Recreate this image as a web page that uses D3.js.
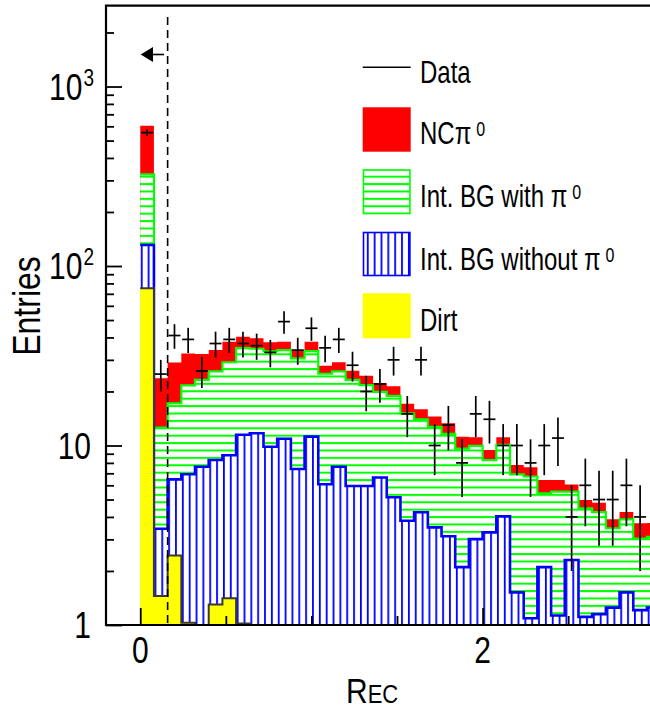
<!DOCTYPE html>
<html><head><meta charset="utf-8">
<script src="https://cdn.jsdelivr.net/npm/d3@7"></script>
<style>
body{margin:0;background:#fff}
svg{display:block}
text{font-family:"Liberation Sans",Arial,Helvetica,sans-serif;fill:#000}
</style>
</head><body>
<svg id="c" width="650" height="710"></svg>
<script>
// ---------------- data ----------------
const binLow = [0.00,0.08,0.16,0.24,0.32,0.40,0.48,0.56,0.64,0.72,0.80,0.88,0.96,1.04,1.12,1.20,1.28,1.36,1.44,
                1.52,1.60,1.68,1.76,1.84,1.92,2.00,2.08,2.16,2.24,2.32,2.40,2.48,2.56,2.64,2.72,2.80,2.88,2.96];
const binWidth = 0.08;
const dirt    = [75.1,1.45,2.44,1.03,0,1.30,1.41,1.02,0,0,0,0,0,0,0,0,0,0,0,0,0,0,0,0,0,0,0,0,0,0,0,0,0,0,0,0,0,0];
const bgNoPi0 = [55.9,1.99,4.04,5.89,7.62,7.00,7.42,10.45,11.7,9.85,10.9,7.40,11.2,6.08,7.62,5.95,5.95,6.63,5.15,
                 3.81,4.25,3.50,3.12,2.10,3.01,3.28,4.03,1.52,1.09,2.10,1.13,2.30,1.11,1.15,1.25,1.52,1.21,1.25];
const bgPi0   = [193,9.16,10.72,14.68,15.58,17.6,20.27,23.43,22.9,23.65,23.1,23.2,22.4,19.02,18.28,17.25,15.75,13.27,
                 13.75,11.29,9.75,9.2,8.48,7.5,6.95,5.02,6.07,5.38,5.63,3.32,4.40,3.23,3.36,3.10,2.21,2.36,1.82,1.85];
const ncPi0   = [281,11.1,11.8,11.0,9.1,8.1,8.8,5.5,5.0,4.1,3.9,3.4,4.3,2.7,3.2,2.9,2.8,2.4,2.5,2.0,1.9,1.8,1.7,1.6,
                 1.14,1.14,1.0,0.89,0.85,1.01,0.90,0.53,0.50,0.55,0.42,0.38,0.66,0.6];
const dataCounts = [553,25,41,39,26,37,39,37,36,33,49,34,45,35,39,28,20,22,30,15,30,10,13,8,15,14,10,10,8,10,11,4,6,5,5,6,4];
const cutValue = 0.16;
const xMajorTicks = [0, 2];
const xMinorTicks = [0.5, 1, 1.5, 2.5];
const yMajorTicks = [1, 10, 100, 1000];
const yMinorTicks = [2,3,4,5,6,7,8,9,20,30,40,50,60,70,80,90,200,300,400,500,600,700,800,900,2000];
const xTickLabels = ["0", "2"];
const yTickLabels = [["1",""],["10",""],["10","2"],["10","3"]];
const legendLabels = [["Data",""],["NCπ","0"],["Int. BG with π","0"],["Int. BG without π","0"],["Dirt",""]];

// ---------------- setup ----------------
const svg = d3.select("#c");
const L = 106, R = 653.8, T = 5.7, B = 625;
const x = d3.scaleLinear().domain([-0.2, 3.0]).range([L, R]);
const y = d3.scaleLog().domain([1, 2820]).range([B, T]).clamp(true);
const yv = v => y(Math.max(v, 1));

const defs = svg.append("defs");
defs.append("clipPath").attr("id","plotclip").append("rect")
  .attr("x", L).attr("y", T).attr("width", R - L).attr("height", B - T);
const pg = defs.append("pattern").attr("id","hatchG").attr("patternUnits","userSpaceOnUse")
  .attr("x",0).attr("y",5.5).attr("width",20).attr("height",7.4);
pg.append("rect").attr("width",20).attr("height",7.4).attr("fill","#fff");
pg.append("rect").attr("x",0).attr("y",0).attr("width",20).attr("height",2).attr("fill","#00ff00");
const pb = defs.append("pattern").attr("id","hatchB").attr("patternUnits","userSpaceOnUse")
  .attr("x",140.8).attr("y",0).attr("width",6.85).attr("height",20);
pb.append("rect").attr("width",6.85).attr("height",20).attr("fill","#fff");
pb.append("rect").attr("x",0).attr("y",0).attr("width",1.8).attr("height",20).attr("fill","#0000ff");

// cumulative stacks
const cum1 = dirt.slice();
const cum2 = cum1.map((v,i)=>v + bgNoPi0[i]);
const cum3 = cum2.map((v,i)=>v + bgPi0[i]);
const cum4 = cum3.map((v,i)=>v + ncPi0[i]);

function stepPts(vals){
  const pts = [];
  vals.forEach((v,i)=>{ const yy = yv(v); pts.push([x(binLow[i]), yy],[x(binLow[i]+binWidth), yy]); });
  return pts;
}
function areaPath(vals){
  const pts = stepPts(vals);
  const first = [pts[0][0], B], last = [pts[pts.length-1][0], B];
  return d3.line()([first, ...pts, last]) + "Z";
}
function outlinePath(vals){
  const pts = stepPts(vals);
  return d3.line()([...pts, [pts[pts.length-1][0], B]]);
}

const plot = svg.append("g").attr("clip-path","url(#plotclip)");
plot.append("path").attr("d", areaPath(cum4)).attr("fill","#ff0000");
plot.append("path").attr("d", areaPath(cum3)).attr("fill","url(#hatchG)");
plot.append("path").attr("d", outlinePath(cum3)).attr("fill","none").attr("stroke","#00ff00").attr("stroke-width",2.2);
plot.append("path").attr("d", areaPath(cum2)).attr("fill","url(#hatchB)");
plot.append("path").attr("d", outlinePath(cum2)).attr("fill","none").attr("stroke","#0000ff").attr("stroke-width",2.6);
plot.append("path").attr("d", areaPath(cum1)).attr("fill","#ffff00");
plot.append("path").attr("d", outlinePath(cum1)).attr("fill","none").attr("stroke","#3a3a30").attr("stroke-width",2);

plot.append("line").attr("x1", x(cutValue)).attr("x2", x(cutValue)).attr("y1", 17).attr("y2", B)
  .attr("stroke","#000").attr("stroke-width",1.6).attr("stroke-dasharray","8,5");

const dg = plot.append("g").attr("stroke","#000").attr("stroke-width",1.7);
dataCounts.forEach((n,i)=>{
  const xc = binLow[i] + binWidth/2, err = Math.sqrt(n);
  dg.append("line").attr("x1", x(xc - 0.035)).attr("x2", x(xc + 0.035)).attr("y1", y(n)).attr("y2", y(n));
  dg.append("line").attr("x1", x(xc)).attr("x2", x(xc)).attr("y1", yv(n - err)).attr("y2", y(n + err));
});

// ---------------- axes ----------------
const ax = svg.append("g");
function styleAxis(g){ g.select(".domain").remove(); g.selectAll("line").attr("stroke","#000").attr("stroke-width",1.8); g.selectAll("text").remove(); }
ax.append("g").attr("transform",`translate(0,${B})`)
  .call(d3.axisBottom(x).tickValues(xMajorTicks).tickSize(-17).tickFormat("")).call(styleAxis);
ax.append("g").attr("transform",`translate(0,${B})`)
  .call(d3.axisBottom(x).tickValues(xMinorTicks).tickSize(-9).tickFormat("")).call(styleAxis);
ax.append("g").attr("transform",`translate(${L},0)`)
  .call(d3.axisLeft(y).tickValues(yMajorTicks).tickSize(-16).tickFormat("")).call(styleAxis);
ax.append("g").attr("transform",`translate(${L},0)`)
  .call(d3.axisLeft(y).tickValues(yMinorTicks).tickSize(-8).tickFormat("")).call(styleAxis);
ax.append("path").attr("d", `M${R},${T}H${L}V${B}H${R}`).attr("fill","none").attr("stroke","#000").attr("stroke-width",2.2);

function txt(g, tx, ty, size, anchor, s){
  return g.append("text").attr("transform", `translate(${tx},${ty}) scale(1,${s})`)
    .attr("font-size", size).attr("text-anchor", anchor || "start");
}
xMajorTicks.forEach((v,i)=> txt(svg, x(v), 663, 30, "middle", 1.25).text(xTickLabels[i]));
yMajorTicks.forEach((v,i)=>{
  const [base, sup] = yTickLabels[i];
  const t = txt(svg, sup ? 94 : 91, y(v) + 13, 30, "end", 1.25);
  t.append("tspan").text(base);
  if (sup) t.append("tspan").attr("font-size", 19).attr("dy", -11).attr("dx", 1).text(sup);
});
const xt = txt(svg, 346, 703, 30, "start", 1.16);
xt.append("tspan").text("R");
xt.append("tspan").attr("font-size", 22).text("EC");
svg.append("text").attr("transform", `translate(40,306) scale(1.2,1) rotate(-90)`)
  .attr("font-size", 32).attr("text-anchor","middle").text("Entries");

// arrow
svg.append("line").attr("x1", 152).attr("x2", 164).attr("y1", 54.5).attr("y2", 54.5).attr("stroke","#000").attr("stroke-width",1.6);
svg.append("path").attr("d","M140.7,54.5L153,47L153,62Z").attr("fill","#000");

// ---------------- legend ----------------
const lg = svg.append("g");
const bx = 362.7, bw = 48;
lg.append("line").attr("x1", bx).attr("x2", bx + bw).attr("y1", 67.3).attr("y2", 67.3).attr("stroke","#000").attr("stroke-width",1.6);
lg.append("rect").attr("x", bx).attr("y", 107.3).attr("width", bw).attr("height", 44.4).attr("fill","#ff0000");
lg.append("rect").attr("x", bx+0.8).attr("y", 170).attr("width", bw-1.6).attr("height", 43.5).attr("fill","url(#hatchG)").attr("stroke","#00ff00").attr("stroke-width",1.6);
lg.append("rect").attr("x", bx+0.8).attr("y", 232.5).attr("width", bw-1.6).attr("height", 43).attr("fill","url(#hatchB)").attr("stroke","#0000ff").attr("stroke-width",1.6);
lg.append("rect").attr("x", bx).attr("y", 293.3).attr("width", bw).attr("height", 45).attr("fill","#ffff00");
const legendBase = [83.3, 144, 206.7, 270, 330.7];
legendLabels.forEach(([main, sup], i)=>{
  const t = txt(lg, 420, legendBase[i], 24, "start", 1.3);
  t.append("tspan").text(main);
  if (sup) t.append("tspan").attr("font-size", 16).attr("dx", 5).attr("dy", -6).text(sup);
});
</script>
</body></html>
